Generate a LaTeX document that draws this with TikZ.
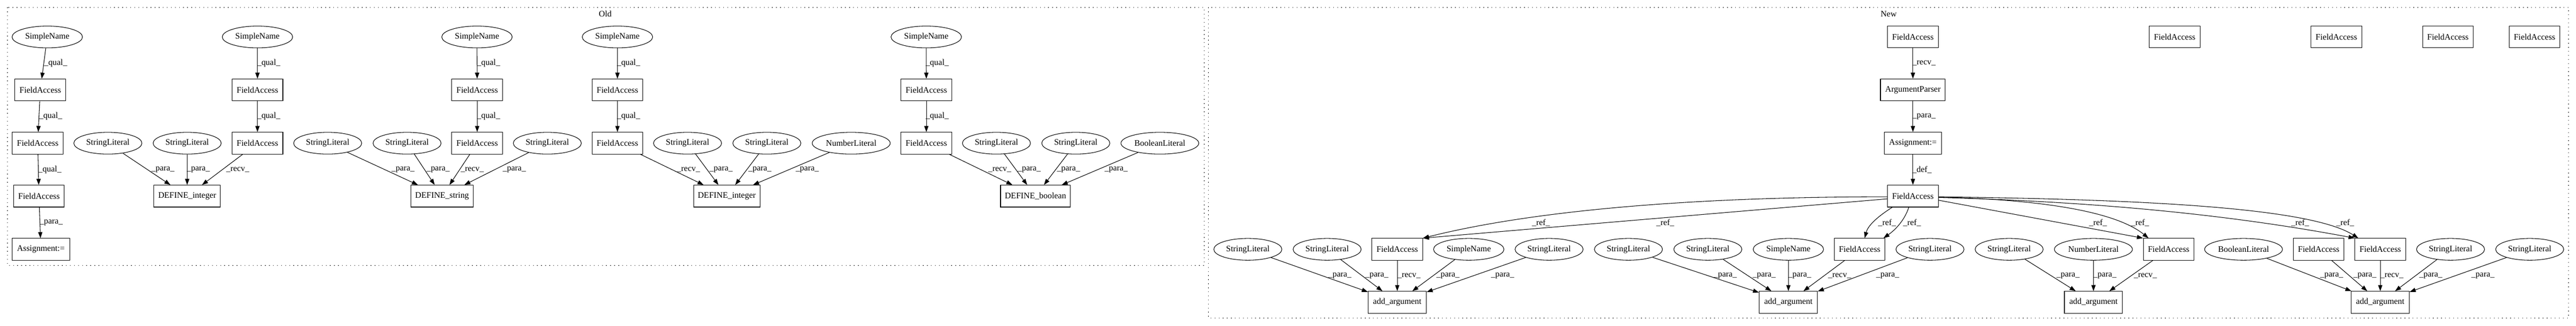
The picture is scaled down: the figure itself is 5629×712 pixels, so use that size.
\documentclass[tikz,border=0pt]{standalone}
\usepackage{fontspec}
\setmainfont{Liberation Serif}
\usetikzlibrary{arrows.meta,shapes.geometric,calc}
\begin{document}
\begin{tikzpicture}[x=0.755pt,y=-0.755pt,font=\fontsize{14pt}{16pt}\selectfont]
\tikzset{
 base/.style={draw, line width=0.9pt, minimum height=36pt, inner sep=0pt},
 bx/.style={base, rectangle},
 el/.style={base, ellipse},
 fa/.style={bx, minimum width=83.7pt},
 asg/.style={bx, minimum width=95pt},
 dint/.style={bx, minimum width=109.6pt},
 dstr/.style={bx, minimum width=102.7pt},
 dbool/.style={bx, minimum width=115.3pt},
 argp/.style={bx, minimum width=107pt},
 aa/.style={bx, minimum width=96pt},
 sn/.style={el, minimum width=116.2pt},
 sl/.style={el, minimum width=112.3pt},
 nl/.style={el, minimum width=128.7pt},
 bl/.style={el, minimum width=128.4pt},
 arr/.style={line width=0.9pt, -{Triangle[length=10pt,width=7pt]}},
 lbl/.style={inner sep=0pt},
 clus/.style={line width=0.9pt, dash pattern=on 1.2pt off 5.5pt},
}
\useasboundingbox (0,0) rectangle (5629,712);
% clusters
\draw[clus] (16,16) rectangle (2631,580);
\draw[clus] (2641,16) rectangle (5613,695);
\node[lbl] (oldlbl) at (1322.5,30.4) {Old};
\node[lbl] (newlbl) at (4127,30.4) {New};

% ---------------- Old ----------------
\node[sn] (SN1) at (103.3,80.8) {SimpleName};
\node[fa] (FA1a) at (88,196.6) {FieldAccess};
\node[fa] (FA1b) at (82.4,313) {FieldAccess};
\node[fa] (FA1c) at (85.2,428.7) {FieldAccess};
\node[asg] (AS1) at (89.3,545) {Assignment:=};
\node[sl] (SL1) at (235.7,313) {StringLiteral};
\node[sl] (SL2) at (409,313) {StringLiteral};
\node[sn] (SN2) at (562.6,80.8) {SimpleName};
\node[fa] (FA2a) at (562.6,196.6) {FieldAccess};
\node[fa] (FA2b) at (562.6,313) {FieldAccess};
\node[dint] (DI1) at (409,428.7) {DEFINE\_integer};
\node[sl] (SL3) at (716,313) {StringLiteral};
\node[sl] (SL4) at (889.5,313) {StringLiteral};
\node[sn] (SN3) at (1042.3,80.8) {SimpleName};
\node[fa] (FA3a) at (1042.7,196.6) {FieldAccess};
\node[fa] (FA3b) at (1042.7,313) {FieldAccess};
\node[sl] (SL5) at (1196,313) {StringLiteral};
\node[dstr] (DS) at (966,428.7) {DEFINE\_string};
\node[sn] (SN4) at (1349.2,80.8) {SimpleName};
\node[fa] (FA4a) at (1349.2,196.6) {FieldAccess};
\node[fa] (FA4b) at (1349.2,313) {FieldAccess};
\node[sl] (SL6) at (1502.4,313) {StringLiteral};
\node[sl] (SL7) at (1675.7,313) {StringLiteral};
\node[nl] (NL1) at (1860,313) {NumberLiteral};
\node[dint] (DI2) at (1588,428.7) {DEFINE\_integer};
\node[sn] (SN5) at (2024,80.8) {SimpleName};
\node[fa] (FA5a) at (2024.2,196.6) {FieldAccess};
\node[fa] (FA5b) at (2024.2,313) {FieldAccess};
\node[sl] (SL8) at (2177.4,313) {StringLiteral};
\node[sl] (SL9) at (2350.8,313) {StringLiteral};
\node[bl] (BL1) at (2534.5,313) {BooleanLiteral};
\node[dbool] (DB) at (2262.6,428.7) {DEFINE\_boolean};

\draw[arr] (SN1) -- (FA1a);
\draw[arr] (FA1a) -- (FA1b);
\draw[arr] (FA1b) -- (FA1c);
\draw[arr] (FA1c) -- (AS1);
\draw[arr] (SL1) -- (DI1);
\draw[arr] (SL2) -- (DI1);
\draw[arr] (FA2b) -- (DI1);
\draw[arr] (SN2) -- (FA2a);
\draw[arr] (FA2a) -- (FA2b);
\draw[arr] (SL3) -- (DS);
\draw[arr] (SL4) -- (DS);
\draw[arr] (FA3b) -- (DS);
\draw[arr] (SL5) -- (DS);
\draw[arr] (SN3) -- (FA3a);
\draw[arr] (FA3a) -- (FA3b);
\draw[arr] (SN4) -- (FA4a);
\draw[arr] (FA4a) -- (FA4b);
\draw[arr] (FA4b) -- (DI2);
\draw[arr] (SL6) -- (DI2);
\draw[arr] (SL7) -- (DI2);
\draw[arr] (NL1) -- (DI2);
\draw[arr] (SN5) -- (FA5a);
\draw[arr] (FA5a) -- (FA5b);
\draw[arr] (FA5b) -- (DB);
\draw[arr] (SL8) -- (DB);
\draw[arr] (SL9) -- (DB);
\draw[arr] (BL1) -- (DB);

\node[lbl] (o1) at (121.7,138.5) {\_qual\_};
\node[lbl] (o2) at (110.8,254.3) {\_qual\_};
\node[lbl] (o3) at (109,371) {\_qual\_};
\node[lbl] (o4) at (112,486.8) {\_para\_};
\node[lbl] (o5) at (356,371) {\_para\_};
\node[lbl] (o6) at (433.4,371) {\_para\_};
\node[lbl] (o7) at (519.5,371) {\_recv\_};
\node[lbl] (o8) at (587.3,138.5) {\_qual\_};
\node[lbl] (o9) at (587.3,254.3) {\_qual\_};
\node[lbl] (o10) at (880.6,371) {\_para\_};
\node[lbl] (o11) at (957.4,371) {\_para\_};
\node[lbl] (o12) at (1032,371) {\_recv\_};
\node[lbl] (o13) at (1123.9,371) {\_para\_};
\node[lbl] (o14) at (1067.6,138.5) {\_qual\_};
\node[lbl] (o15) at (1067.6,254.3) {\_qual\_};
\node[lbl] (o16) at (1373.6,138.5) {\_qual\_};
\node[lbl] (o17) at (1373.6,254.3) {\_qual\_};
\node[lbl] (o18) at (1504.5,371) {\_recv\_};
\node[lbl] (o19) at (1575.7,371) {\_para\_};
\node[lbl] (o20) at (1660.6,371) {\_para\_};
\node[lbl] (o21) at (1764,371) {\_para\_};
\node[lbl] (o22) at (2048,138.5) {\_qual\_};
\node[lbl] (o23) at (2048,254.3) {\_qual\_};
\node[lbl] (o24) at (2184.6,371) {\_recv\_};
\node[lbl] (o25) at (2249,371) {\_para\_};
\node[lbl] (o26) at (2335,371) {\_para\_};
\node[lbl] (o27) at (2439,371) {\_para\_};

% ---------------- New ----------------
\node[fa] (FAt) at (4180,80.8) {FieldAccess};
\node[argp] (AP) at (4180,196.6) {ArgumentParser};
\node[asg] (AS2) at (4180,313) {Assignment:=};
\node[fa] (FAc) at (4180,428.7) {FieldAccess};
\node[fa] (FI1) at (4752,80.8) {FieldAccess};
\node[fa] (FI2) at (5105.4,80.8) {FieldAccess};
\node[fa] (FI3) at (5349,80.8) {FieldAccess};
\node[fa] (FI4) at (5538.4,80.8) {FieldAccess};

\node[sl] (SL10) at (2726.7,545) {StringLiteral};
\node[sl] (SL11) at (2900,545) {StringLiteral};
\node[fa] (FA6) at (3053.2,545) {FieldAccess};
\node[sn] (SN6) at (3209.4,545) {SimpleName};
\node[sl] (SL12) at (3385,545) {StringLiteral};
\node[aa] (AA1) at (3053.2,660.8) {add\_argument};
\node[sl] (SL13) at (3558.4,545) {StringLiteral};
\node[sl] (SL14) at (3731.9,545) {StringLiteral};
\node[sn] (SN7) at (3907.9,545) {SimpleName};
\node[fa] (FA7) at (4063.6,545) {FieldAccess};
\node[sl] (SL15) at (4217.3,545) {StringLiteral};
\node[aa] (AA2) at (3907.9,660.8) {add\_argument};
\node[sl] (SL16) at (4390.3,545) {StringLiteral};
\node[nl] (NL2) at (4574.4,545) {NumberLiteral};
\node[fa] (FA8) at (4738.8,545) {FieldAccess};
\node[aa] (AA3) at (4574.6,660.8) {add\_argument};
\node[bl] (BL2) at (4902.5,545) {BooleanLiteral};
\node[fa] (FA9) at (5066.7,545) {FieldAccess};
\node[fa] (FA10) at (5201.2,545) {FieldAccess};
\node[sl] (SL17) at (5354.8,545) {StringLiteral};
\node[sl] (SL18) at (5527.8,545) {StringLiteral};
\node[aa] (AA4) at (5201.2,660.8) {add\_argument};

\draw[arr] (FAt) -- (AP);
\draw[arr] (AP) -- (AS2);
\draw[arr] (AS2) -- (FAc);
\draw[arr] (SL10) -- (AA1);
\draw[arr] (SL11) -- (AA1);
\draw[arr] (FA6) -- (AA1);
\draw[arr] (SN6) -- (AA1);
\draw[arr] (SL12) -- (AA1);
\draw[arr] (SL13) -- (AA2);
\draw[arr] (SL14) -- (AA2);
\draw[arr] (SN7) -- (AA2);
\draw[arr] (FA7) -- (AA2);
\draw[arr] (SL15) -- (AA2);
\draw[arr] (SL16) -- (AA3);
\draw[arr] (NL2) -- (AA3);
\draw[arr] (FA8) -- (AA3);
\draw[arr] (BL2) -- (AA4);
\draw[arr] (FA9) -- (AA4);
\draw[arr] (FA10) -- (AA4);
\draw[arr] (SL17) -- (AA4);
\draw[arr] (SL18) -- (AA4);

% _ref_ edges
\draw[arr] ($(FAc.west)+(0,1.5)$) .. controls (3700,430) and (3350,460) .. (FA6.north east);
\draw[arr] ($(FAc.west)+(0,6)$) -- (FA6.north east);
\draw[arr] ($(FAc.south)+(-45,0)$) .. controls (4105,472) and (4082,492) .. ($(FA7.north)+(11,0)$);
\draw[arr] ($(FAc.south)+(-9,0)$) .. controls (4163,478) and (4145,500) .. ($(FA7.north east)+(-4,0)$);
\draw[arr] ($(FAc.east)+(0,9)$) -- (FA8.north west);
\draw[arr] ($(FAc.east)+(0,2)$) .. controls (4450,436) and (4620,460) .. ($(FA8.north west)+(12,0)$);
\draw[arr] ($(FAc.east)+(0,3)$) .. controls (4550,440) and (4850,465) .. (FA10.north west);
\draw[arr] ($(FAc.east)+(0,1.5)$) .. controls (4700,436) and (5050,455) .. ($(FA10.north west)+(8,0)$);

\node[lbl] (n1) at (4204.4,138.5) {\_recv\_};
\node[lbl] (n2) at (4204.4,254.3) {\_para\_};
\node[lbl] (n3) at (4199.8,371) {\_def\_};
\node[lbl] (n4) at (3367.2,487) {\_ref\_};
\node[lbl] (n5) at (3638.8,487) {\_ref\_};
\node[lbl] (n6) at (4123.5,487) {\_ref\_};
\node[lbl] (n7) at (4178,487) {\_ref\_};
\node[lbl] (n8) at (4584.5,487) {\_ref\_};
\node[lbl] (n9) at (4676.6,487) {\_ref\_};
\node[lbl] (n10) at (5026,487) {\_ref\_};
\node[lbl] (n11) at (5124.6,487) {\_ref\_};
\node[lbl] (n12) at (2927.9,602.6) {\_para\_};
\node[lbl] (n13) at (3008.7,602.6) {\_para\_};
\node[lbl] (n14) at (3079,602.6) {\_recv\_};
\node[lbl] (n15) at (3164,602.6) {\_para\_};
\node[lbl] (n16) at (3283.5,602.6) {\_para\_};
\node[lbl] (n17) at (3770,602.6) {\_para\_};
\node[lbl] (n18) at (3855,602.6) {\_para\_};
\node[lbl] (n19) at (3932.6,602.6) {\_para\_};
\node[lbl] (n20) at (4020,602.6) {\_recv\_};
\node[lbl] (n21) at (4124.9,602.6) {\_para\_};
\node[lbl] (n22) at (4519,602.6) {\_para\_};
\node[lbl] (n23) at (4599.5,602.6) {\_para\_};
\node[lbl] (n24) at (4688,602.6) {\_recv\_};
\node[lbl] (n25) at (5095,602.6) {\_para\_};
\node[lbl] (n26) at (5167.7,602.6) {\_para\_};
\node[lbl] (n27) at (5226.8,602.6) {\_recv\_};
\node[lbl] (n28) at (5311.7,602.6) {\_para\_};
\node[lbl] (n29) at (5425.6,602.6) {\_para\_};
\end{tikzpicture}
\end{document}
